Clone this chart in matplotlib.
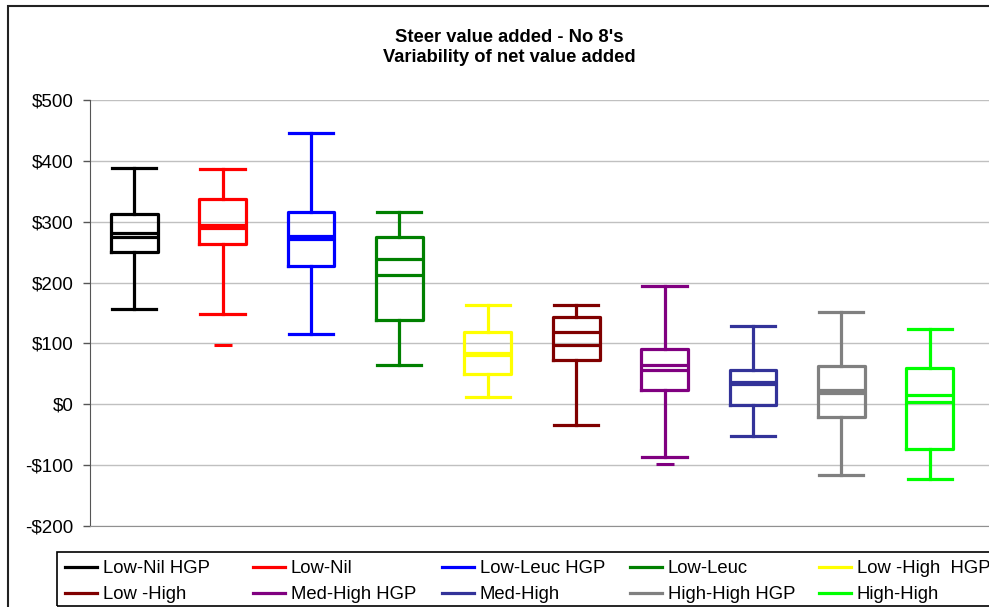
import matplotlib
matplotlib.use("Agg")
import matplotlib.pyplot as plt
from matplotlib.lines import Line2D
from matplotlib.patches import Rectangle

plt.rcParams['font.family'] = ['Liberation Sans', 'DejaVu Sans']

# groups, left to right (same order as the legend rows)
groups = ["Low-Nil HGP", "Low-Nil", "Low-Leuc HGP", "Low-Leuc", "Low -High  HGP",
          "Low -High", "Med-High HGP", "Med-High", "High-High HGP", "High-High"]
colors = ["#000000", "#ff0000", "#0000ff", "#008000", "#ffff00",
          "#800000", "#800080", "#333399", "#808080", "#00ff00"]

# box stats, $ net value added
whis_hi = [389, 386, 446, 316, 163, 163, 195, 129, 152, 123]
q3 = [312, 338, 316, 275, 119, 144, 91, 57, 63, 59]
mean = [282, 295, 277, 239, 84, 118, 64, 36, 24, 15]
median = [275, 290, 272, 213, 81, 97, 56, 34, 19, 3]
q1 = [251, 263, 227, 138, 49, 73, 23, -1, -21, -74]
whis_lo = [157, 149, 116, 65, 12, -34, -86, -52, -117, -122]
minimum = [None, 97, None, None, None, None, -98, None, None, None]

yticks = [-200, -100, 0, 100, 200, 300, 400, 500]

W, H = 989, 607
fig = plt.figure(figsize=(W / 100, H / 100), dpi=100)
ax = fig.add_axes([90 / W, 1 - 526 / H, 899 / W, 426 / H])

lw = 2.3
for i in range(len(groups)):
    c = colors[i]
    st = dict(whislo=whis_lo[i], q1=q1[i], med=median[i], q3=q3[i],
              whishi=whis_hi[i], mean=mean[i],
              fliers=[minimum[i]] if minimum[i] is not None else [])
    ax.bxp([st], positions=[i], widths=0.53, capwidths=0.5,
           showmeans=True, meanline=True,
           boxprops=dict(color=c, lw=lw),
           whiskerprops=dict(color=c, lw=lw),
           capprops=dict(color=c, lw=lw),
           medianprops=dict(color=c, lw=lw),
           meanprops=dict(color=c, lw=lw, linestyle='-'),
           flierprops=dict(marker='_', markersize=13, markeredgewidth=2.2,
                           markeredgecolor=c, linestyle='none'))

ax.set_xlim(-0.5, 9.67)
ax.set_ylim(-200, 500)
ax.set_xticks([])
ax.set_yticks(yticks)
ax.set_yticklabels([f"${v}" if v >= 0 else f"-${-v}" for v in yticks])
ax.set_axisbelow(True)
ax.yaxis.grid(True, color='#c0c0c0', lw=1)
ax.tick_params(axis='y', length=5, width=1, color='#555555', labelsize=13.5, pad=7)
for s in ['top', 'right']:
    ax.spines[s].set_visible(False)
ax.spines['left'].set_color('#555555')
ax.spines['bottom'].set_color('#909090')

# title
fig.text(509 / W, 1 - 38 / H, "Steer value added - No 8's", ha='center', va='center',
         fontsize=13.2, fontweight='bold')
fig.text(509 / W, 1 - 58 / H, "Variability of net value added", ha='center', va='center',
         fontsize=13.2, fontweight='bold')

# chart frame and legend frame (both run off the right edge)
fig.add_artist(Rectangle((8 / W, -0.5), 2, 1.5 - 6 / H, transform=fig.transFigure,
                         fill=False, ec='#222222', lw=1.5))
fig.add_artist(Rectangle((57 / W, 1 - 606 / H), 2, 54 / H, transform=fig.transFigure,
                         fill=False, ec='#000000', lw=1.2))

# legend, one per column so the columns keep equal pitch
col_x = [65, 253, 442, 630, 819]
fs = 13.3
for k, x in enumerate(col_x):
    hs = [Line2D([], [], color=colors[k], lw=lw), Line2D([], [], color=colors[k + 5], lw=lw)]
    fig.legend(handles=hs, labels=[groups[k], groups[k + 5]], loc='upper left',
               bbox_to_anchor=(x / W, 1 - 560 / H), frameon=False, fontsize=fs,
               handlelength=32 / 18.5, handletextpad=6 / 18.5, labelspacing=0.5,
               borderpad=0, borderaxespad=0)

fig.savefig("out.png", dpi=100)
